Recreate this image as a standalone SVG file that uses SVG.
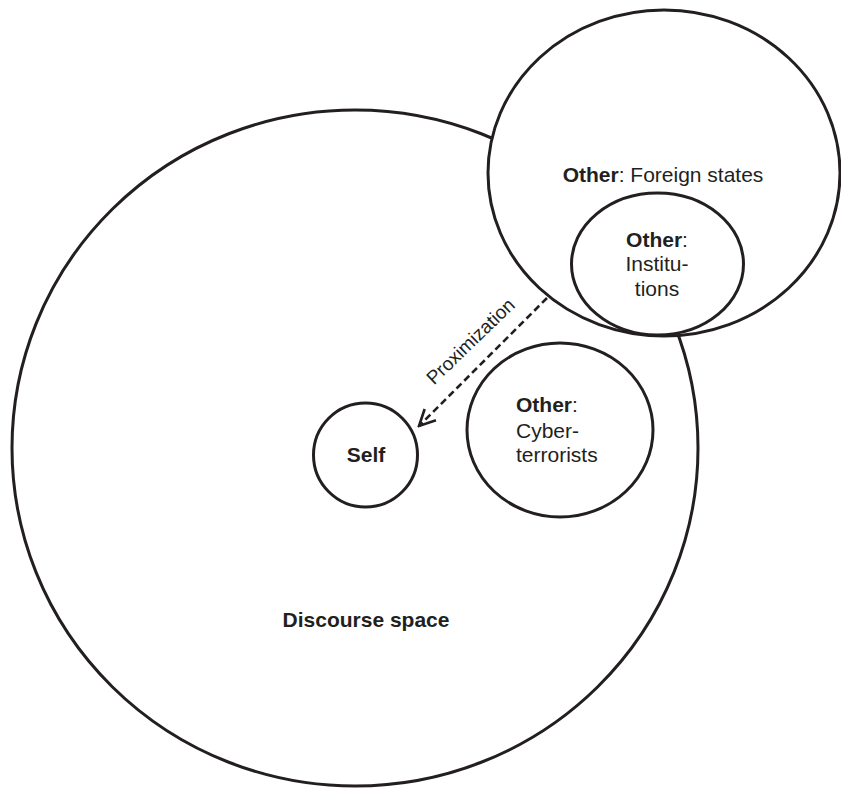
<svg xmlns="http://www.w3.org/2000/svg" width="841" height="788" viewBox="0 0 841 788">
<style>
.shape{fill:#fff;stroke:#231f20;stroke-width:3}
text{font-family:"Liberation Sans",Arial,sans-serif;font-size:21px;fill:#231f20}
.b{font-weight:bold}
.conn{fill:none;stroke:#231f20;stroke-width:2.6}
</style>
<defs>
<marker id="arr" viewBox="0 0 20 20" refX="18" refY="10" markerWidth="20" markerHeight="20" markerUnits="userSpaceOnUse" orient="auto">
<path d="M2,2 L18,10 L2,18" fill="none" stroke="#231f20" stroke-width="2.6"/>
</marker>
</defs>
<rect width="841" height="788" fill="#fff"/>
<g id="discourse-space">
<ellipse class="shape" cx="355" cy="448" rx="343" ry="338"/>
<text class="b" x="366" y="627" text-anchor="middle">Discourse space</text>
</g>
<g id="foreign-states">
<ellipse class="shape" cx="664" cy="173" rx="176" ry="163"/>
<text x="663" y="182" text-anchor="middle"><tspan class="b">Other</tspan>: Foreign states</text>
</g>
<g id="institutions">
<ellipse class="shape" cx="657.5" cy="264" rx="86" ry="71"/>
<text x="657" y="247" text-anchor="middle"><tspan class="b">Other</tspan>:</text>
<text x="657" y="271" text-anchor="middle">Institu-</text>
<text x="657" y="296" text-anchor="middle">tions</text>
</g>
<g id="cyber-terrorists">
<ellipse class="shape" cx="560" cy="430" rx="93" ry="87"/>
<text x="516" y="412"><tspan class="b">Other</tspan>:</text>
<text x="516" y="438">Cyber-</text>
<text x="516" y="462">terrorists</text>
</g>
<g id="self">
<circle class="shape" cx="365.5" cy="455" r="52"/>
<text class="b" x="366" y="462" text-anchor="middle">Self</text>
</g>
<g id="connectors">
<line class="conn" x1="547" y1="298" x2="419" y2="426" stroke-dasharray="7,4" marker-end="url(#arr)"/>
<text x="475" y="346" text-anchor="middle" font-size="19" style="font-size:19px" transform="rotate(-44 475 346)">Proximization</text>
</g>
</svg>
